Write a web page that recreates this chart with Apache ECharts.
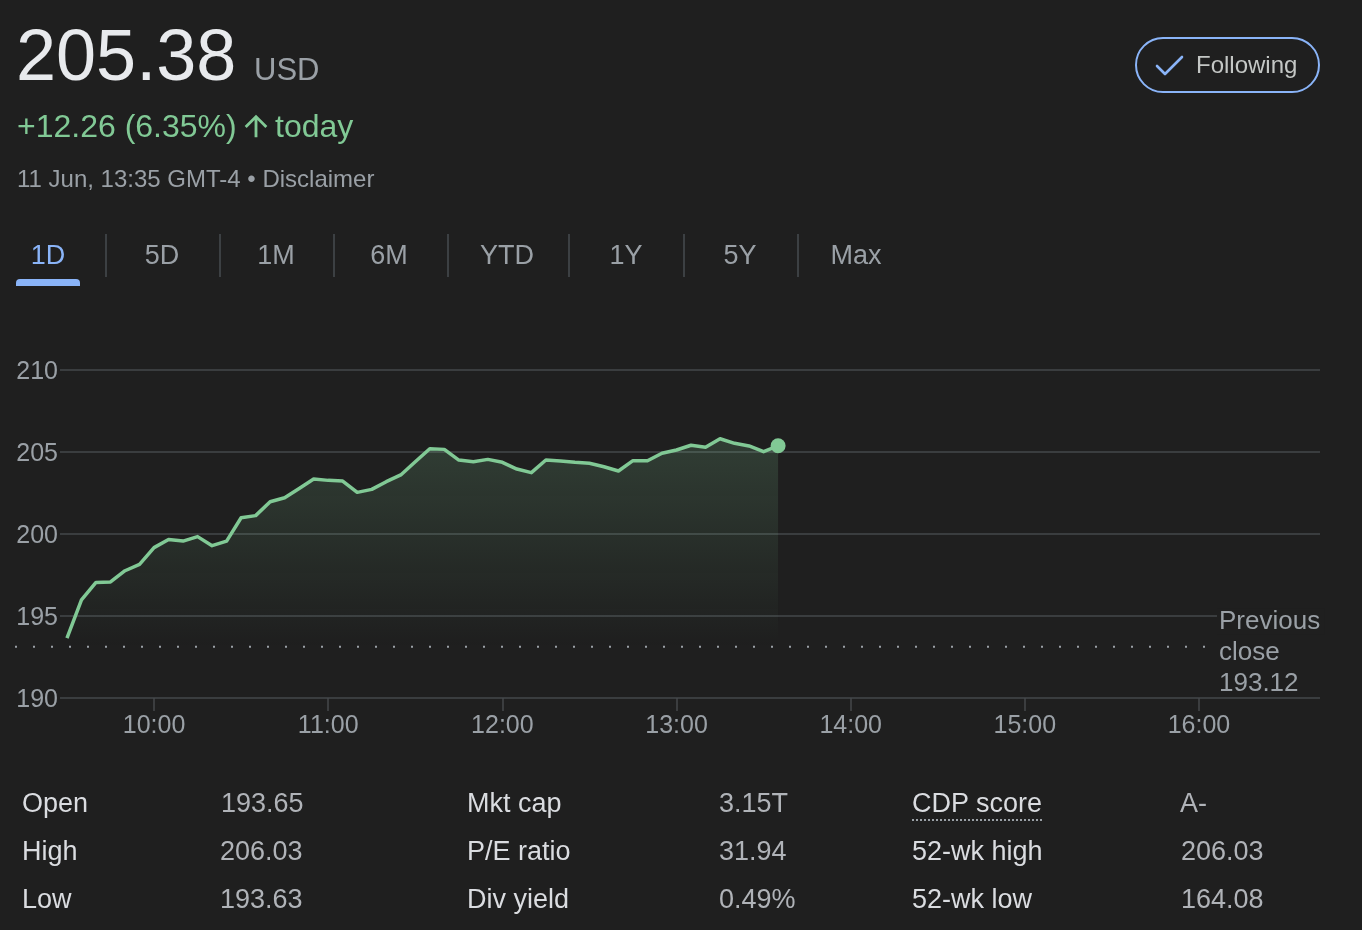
<!DOCTYPE html>
<html>
<head>
<meta charset="utf-8">
<script src="https://cdn.jsdelivr.net/npm/echarts@6/dist/echarts.min.js"></script>
<style>
html,body{margin:0;padding:0;background:#1f1f1f;width:1362px;height:930px;overflow:hidden;font-family:"Liberation Sans",Arial,Helvetica,sans-serif;}
#chart{position:absolute;left:0;top:0;width:1362px;height:930px;}
.t{position:absolute;white-space:nowrap;line-height:1;z-index:2;}
.tab{position:absolute;white-space:nowrap;line-height:1;z-index:2;font-size:27px;color:#9aa0a6;transform:translateX(-50%);top:242px;}
.sep{position:absolute;top:234px;width:1.5px;height:43px;background:#3c4043;z-index:2;}
.lab{position:absolute;white-space:nowrap;line-height:1;z-index:2;font-size:27px;color:#dadce0;}
.val{position:absolute;white-space:nowrap;line-height:1;z-index:2;font-size:27px;color:#b0b3b8;}
</style>
</head>
<body>
<div id="chart"></div>

<div class="t" style="left:16px;top:19px;font-size:72px;color:#e8eaed;">205.38</div>
<div class="t" style="left:254px;top:54px;font-size:31px;color:#9aa0a6;">USD</div>
<div class="t" style="left:17px;top:110px;font-size:32px;color:#81c995;">+12.26 (6.35%)</div>
<svg style="position:absolute;left:239px;top:109px;z-index:2;" width="34" height="34" viewBox="0 0 24 24"><path fill="#81c995" d="M4 12l1.41 1.41L11 7.83V20h2V7.83l5.58 5.59L20 12l-8-8-8 8z"/></svg>
<div class="t" style="left:275px;top:110px;font-size:32px;color:#81c995;">today</div>
<div class="t" style="left:17px;top:167px;font-size:24px;color:#9aa0a6;">11 Jun, 13:35 GMT-4 • Disclaimer</div>

<div style="position:absolute;left:1135px;top:37px;width:181px;height:52px;border:2px solid #8ab4f8;border-radius:28px;z-index:2;"></div>
<svg style="position:absolute;left:1150px;top:50px;z-index:3;" width="40" height="32"><polyline points="7,16 15,24 32,7" fill="none" stroke="#8ab4f8" stroke-width="2.6" stroke-linecap="round" stroke-linejoin="round"/></svg>
<div class="t" style="left:1196px;top:53px;font-size:24px;color:#c4c7c5;">Following</div>

<div class="tab" style="left:48px;color:#8ab4f8;">1D</div>
<div class="tab" style="left:162px;">5D</div>
<div class="tab" style="left:276px;">1M</div>
<div class="tab" style="left:389px;">6M</div>
<div class="tab" style="left:507px;">YTD</div>
<div class="tab" style="left:626px;">1Y</div>
<div class="tab" style="left:740px;">5Y</div>
<div class="tab" style="left:856px;">Max</div>
<div class="sep" style="left:105px;"></div>
<div class="sep" style="left:219px;"></div>
<div class="sep" style="left:333px;"></div>
<div class="sep" style="left:447px;"></div>
<div class="sep" style="left:568px;"></div>
<div class="sep" style="left:683px;"></div>
<div class="sep" style="left:797px;"></div>
<div style="position:absolute;left:16px;top:279px;width:64px;height:7px;background:#8ab4f8;border-radius:4px 4px 0 0;z-index:2;"></div>

<div class="lab" style="left:22px;top:790px;">Open</div>
<div class="val" style="left:221px;top:790px;">193.65</div>
<div class="lab" style="left:467px;top:790px;">Mkt cap</div>
<div class="val" style="left:719px;top:790px;">3.15T</div>
<div class="lab" style="left:912px;top:790px;padding-bottom:2px;border-bottom:2px dotted #9aa0a6;">CDP score</div>
<div class="val" style="left:1180px;top:790px;">A-</div>

<div class="lab" style="left:22px;top:838px;">High</div>
<div class="val" style="left:220px;top:838px;">206.03</div>
<div class="lab" style="left:467px;top:838px;">P/E ratio</div>
<div class="val" style="left:719px;top:838px;">31.94</div>
<div class="lab" style="left:912px;top:838px;">52-wk high</div>
<div class="val" style="left:1181px;top:838px;">206.03</div>

<div class="lab" style="left:22px;top:886px;">Low</div>
<div class="val" style="left:220px;top:886px;">193.63</div>
<div class="lab" style="left:467px;top:886px;">Div yield</div>
<div class="val" style="left:719px;top:886px;">0.49%</div>
<div class="lab" style="left:912px;top:886px;">52-wk low</div>
<div class="val" style="left:1181px;top:886px;">164.08</div>

<script>
const times = ["9:30","9:35","9:40","9:45","9:50","9:55",
  "10:00","10:05","10:10","10:15","10:20","10:25","10:30","10:35","10:40","10:45","10:50","10:55",
  "11:00","11:05","11:10","11:15","11:20","11:25","11:30","11:35","11:40","11:45","11:50","11:55",
  "12:00","12:05","12:10","12:15","12:20","12:25","12:30","12:35","12:40","12:45","12:50","12:55",
  "13:00","13:05","13:10","13:15","13:20","13:25","13:30","13:35"];
const prices = [193.65,195.98,197.05,197.08,197.76,198.15,
  199.17,199.67,199.57,199.84,199.29,199.57,200.99,201.12,201.97,202.21,202.78,203.35,
  203.27,203.23,202.54,202.72,203.19,203.60,204.41,205.20,205.16,204.51,204.41,204.55,
  204.37,203.96,203.74,204.51,204.45,204.37,204.31,204.10,203.84,204.47,204.47,204.92,
  205.12,205.41,205.29,205.81,205.53,205.37,205.02,205.38];
const hourTicks = ["10:00","11:00","12:00","13:00","14:00","15:00","16:00"];
const yTicks = [190,195,200,205,210];
const prevClose = 193.12;
const axisStart = "9:27.6";
const axisEnd = "16:41.7";

function toMin(s){const p=s.split(':');return parseInt(p[0],10)*60+parseFloat(p[1]);}
function fmt(m){const h=Math.floor(m/60);const mm=Math.round(m-h*60);return h+':'+(mm<10?'0':'')+mm;}

const lineData = times.map((t,i)=>[toMin(t),prices[i]]);
const last = lineData.length-1;
const gridColor = '#45484b';
const font = '"Liberation Sans", Arial, Helvetica, sans-serif';

const chart = echarts.init(document.getElementById('chart'), null, {renderer:'canvas'});
chart.setOption({
  animation:false,
  backgroundColor:'transparent',
  textStyle:{fontFamily:font},
  grid:[
    {left:60,right:42,top:370,bottom:232},
    {left:15,right:155,top:370,bottom:232}
  ],
  xAxis:[
    {type:'value',gridIndex:0,min:toMin(axisStart),max:toMin(axisEnd),
     axisLine:{show:false},
     splitLine:{show:false},
     axisTick:{show:true,length:13,customValues:hourTicks.map(toMin),lineStyle:{color:gridColor,width:1.5}},
     axisLabel:{show:true,customValues:hourTicks.map(toMin),formatter:v=>fmt(v),color:'#9aa0a6',fontSize:25,margin:16,fontFamily:font}},
    {type:'value',gridIndex:1,min:0,max:1,show:false}
  ],
  yAxis:[
    {type:'value',gridIndex:0,min:yTicks[0],max:yTicks[yTicks.length-1],interval:5,
     axisLine:{show:false},axisTick:{show:false},
     axisLabel:{color:'#9aa0a6',fontSize:25,margin:2,fontFamily:font,
       formatter:v=>'{a|'+v+'}',
       rich:{a:{color:'#9aa0a6',fontSize:25,fontFamily:font,padding:[4,0,0,0]}}},
     splitLine:{show:true,lineStyle:{color:gridColor,width:1.5}}},
    {type:'value',gridIndex:1,min:yTicks[0],max:yTicks[yTicks.length-1],show:false}
  ],
  series:[
    {type:'line',xAxisIndex:1,yAxisIndex:1,data:[[0,prevClose],[1,prevClose]],
     showSymbol:false,symbol:'none',silent:true,z:1,
     lineStyle:{color:'#9aa0a6',width:2,type:[2,16],cap:'butt'},
     endLabel:{show:true,formatter:()=>'{a|Previous}\n{b|close}\n{b|'+prevClose.toFixed(2)+'}',
       color:'#9aa0a6',fontSize:26,lineHeight:31,distance:10,align:'left',offset:[0,6],
       fontFamily:font,
       rich:{
         a:{color:'#9aa0a6',fontSize:26,lineHeight:31,fontFamily:font,backgroundColor:'#1f1f1f',padding:[0,4,0,2]},
         b:{color:'#9aa0a6',fontSize:26,lineHeight:31,fontFamily:font,padding:[0,4,0,2]}
       }}},
    {type:'line',xAxisIndex:0,yAxisIndex:0,data:lineData,z:3,
     showSymbol:true,showAllSymbol:true,symbol:'circle',
     symbolSize:(v,p)=>p.dataIndex===last?15:0,
     itemStyle:{color:'#81c995'},
     lineStyle:{color:'#81c995',width:3.5,join:'round'},
     areaStyle:{origin:prevClose,color:{type:'linear',x:0,y:0,x2:0,y2:1,
       colorStops:[{offset:0,color:'rgba(129,201,149,0.26)'},{offset:1,color:'rgba(129,201,149,0.0)'}]}}}
  ]
});
</script>
</body>
</html>
